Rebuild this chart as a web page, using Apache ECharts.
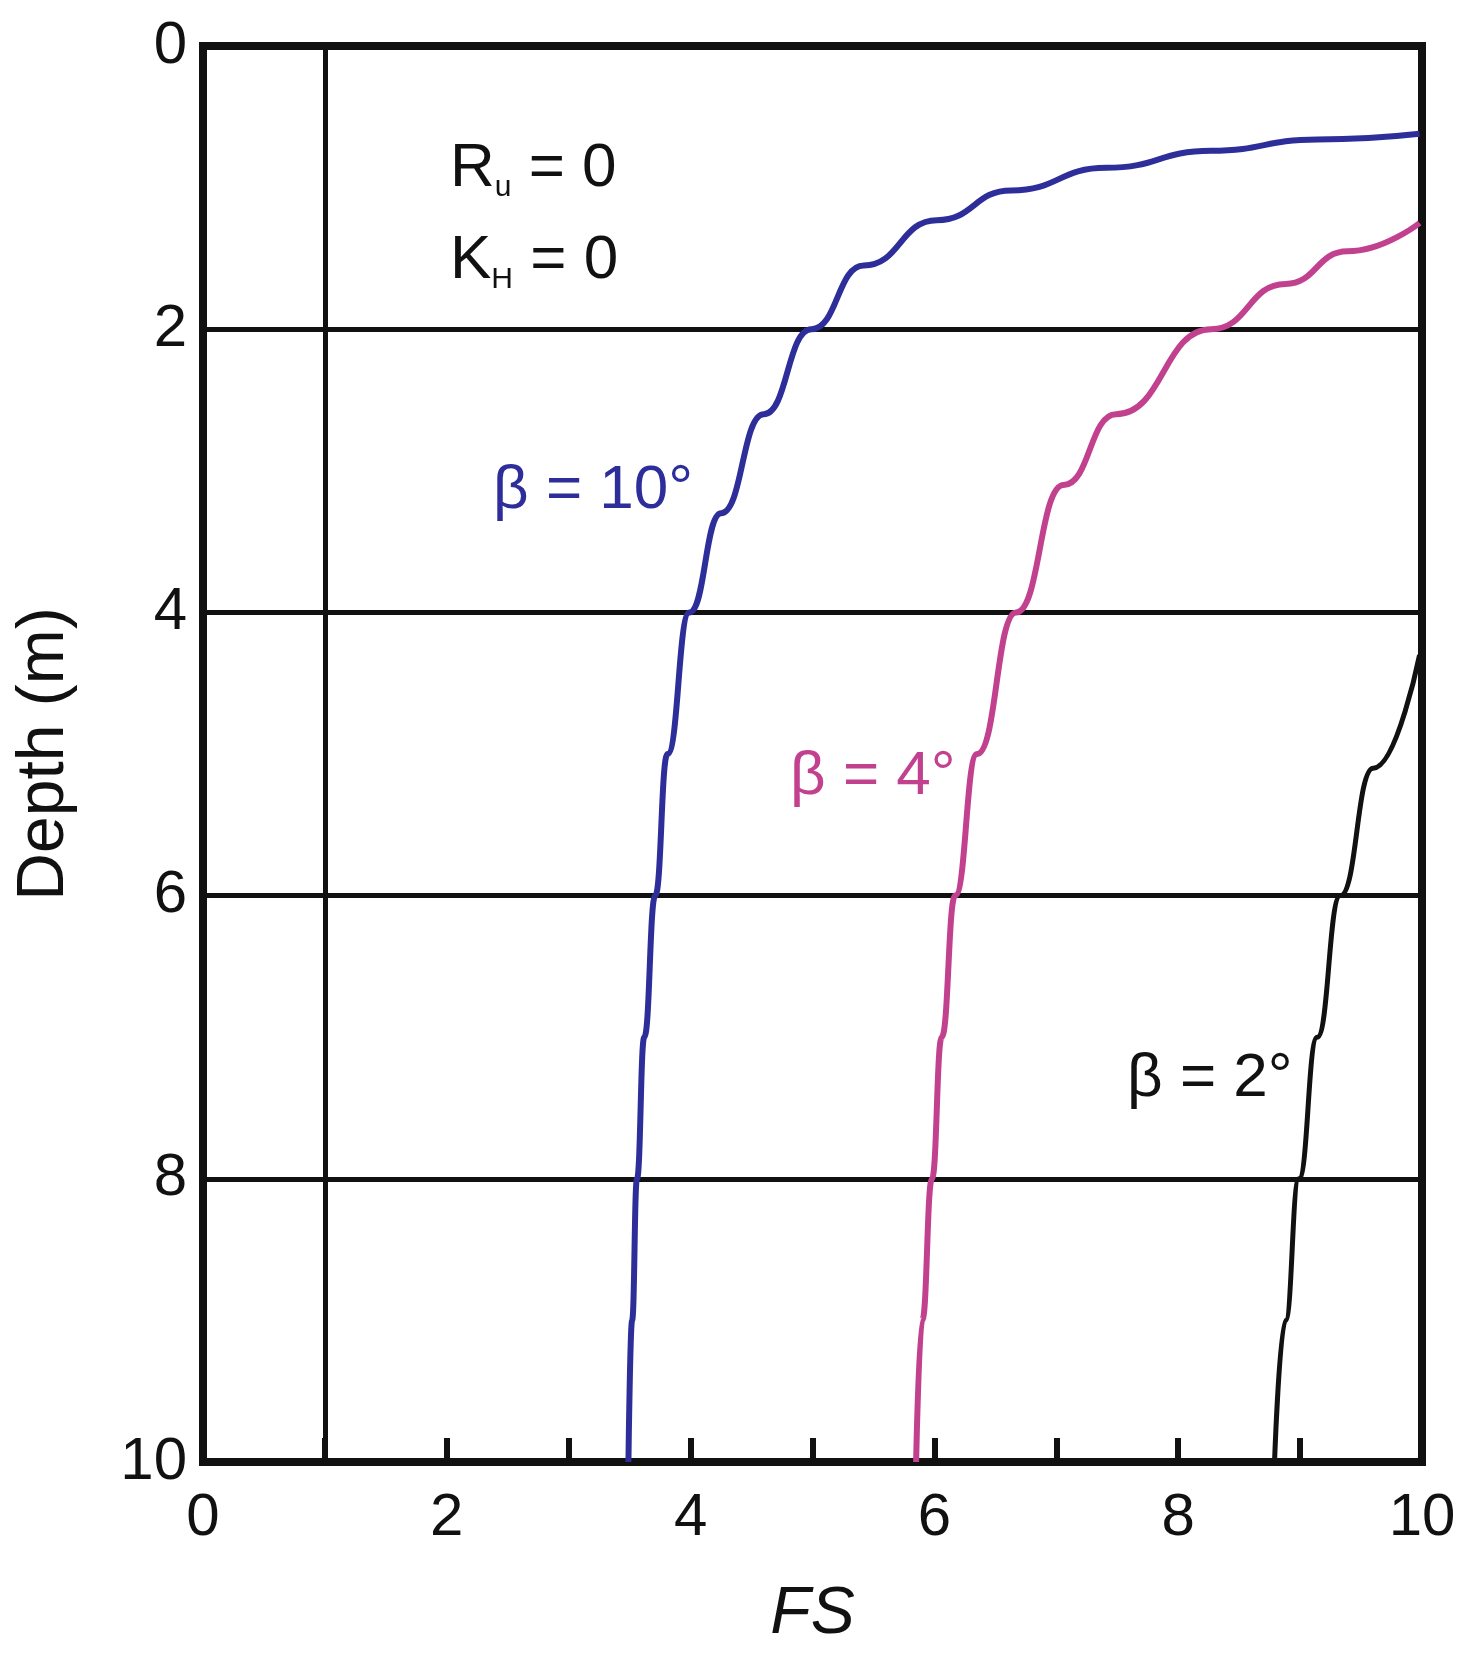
<!DOCTYPE html>
<html>
<head>
<meta charset="utf-8">
<script src="https://cdn.jsdelivr.net/npm/echarts@6/dist/echarts.min.js"></script>
<style>body{margin:0;background:#fff}#chart{width:1481px;height:1653px}</style>
</head>
<body>
<div id="chart"></div>
<script>
    // [FS, depth], ordered by increasing FS
    var beta10 = [[3.49,10],[3.52,9],[3.56,8],[3.62,7],[3.71,6],[3.81,5],[3.99,4],[4.25,3.3],[4.6,2.6],[4.99,2],[5.42,1.55],[6.02,1.23],[6.63,1.02],[7.41,0.86],[8.27,0.74],[9.14,0.66],[9.98,0.62]];
    var beta4 = [[5.85,10],[5.9,9],[5.98,8],[6.06,7],[6.17,6],[6.35,5],[6.67,4],[7.06,3.1],[7.49,2.6],[8.27,2],[8.88,1.68],[9.39,1.45],[9.98,1.25]];
    var beta2 = [[8.79,10],[8.88,9],[8.99,8],[9.14,7],[9.33,6],[9.6,5.1],[9.98,4.3]];

    var font = 'Liberation Sans';
    var myChart = echarts.init(document.getElementById('chart'));
    function line(d, c, w) {
        return {type: 'line', data: d, smooth: 0.5, smoothMonotone: 'x', symbol: 'none', lineStyle: {color: c, width: w}};
    }
    var s10 = line(beta10, '#2e2e9a', 6);
    s10.markLine = {silent: true, symbol: 'none', label: {show: false},
        lineStyle: {color: '#111', width: 5, type: 'solid'}, data: [{xAxis: 1}]};
    var option = {
        animation: false,
        textStyle: {fontFamily: font},
        grid: {left: 203, right: 59, top: 46, bottom: 182, show: true, borderColor: '#111', borderWidth: 8},
        xAxis: {
            type: 'value', min: 0, max: 10, interval: 1,
            name: 'FS', nameLocation: 'middle', nameGap: 120,
            nameTextStyle: {fontSize: 66, fontStyle: 'italic', color: '#111'},
            axisLine: {show: false, onZero: false},
            axisTick: {inside: true, length: 24, lineStyle: {width: 6, color: '#111'}},
            axisLabel: {fontSize: 60, color: '#111', margin: 26,
                formatter: function (v) { return v % 2 === 0 ? v : ''; }},
            splitLine: {show: false}
        },
        yAxis: {
            type: 'value', min: 0, max: 10, interval: 2, inverse: true,
            name: 'Depth (m)', nameLocation: 'middle', nameGap: 125,
            nameTextStyle: {fontSize: 66, color: '#111'},
            axisLine: {show: false, onZero: false}, axisTick: {show: false},
            axisLabel: {fontSize: 60, color: '#111', margin: 16},
            splitLine: {lineStyle: {color: '#111', width: 5}}
        },
        graphic: [
            {type: 'text', left: 450, top: 138, style: {
                text: '{m|R}{s|u}{m| = 0}\n{m|K}{s|H}{m| = 0}',
                rich: {m: {fontSize: 62, fontFamily: font, fill: '#111', lineHeight: 92},
                       s: {fontSize: 30, fontFamily: font, fill: '#111', padding: [38, 0, 0, 0]}}
            }},
            {type: 'text', left: 493, top: 460, style: {text: 'β = 10°', fontSize: 62, fontFamily: font, fill: '#2e2e9a'}},
            {type: 'text', left: 790, top: 746, style: {text: 'β = 4°', fontSize: 62, fontFamily: font, fill: '#c2418f'}},
            {type: 'text', left: 1127, top: 1048, style: {text: 'β = 2°', fontSize: 62, fontFamily: font, fill: '#111'}}
        ],
        series: [s10, line(beta4, '#c2418f', 6), line(beta2, '#111', 5)]
    };
    myChart.setOption(option);
</script>
</body>
</html>
